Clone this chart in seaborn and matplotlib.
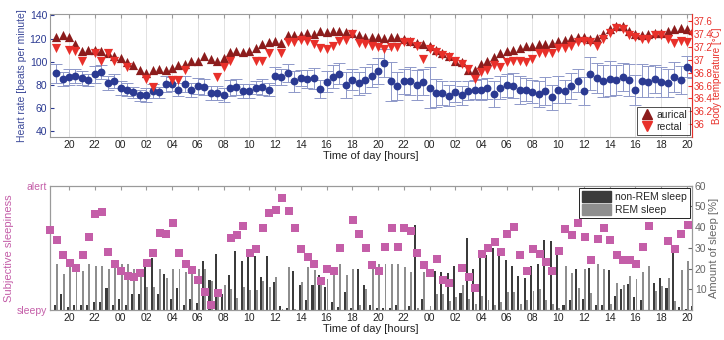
import numpy as np
import pandas as pd
import matplotlib
matplotlib.use("Agg")
import matplotlib.pyplot as plt
from matplotlib.lines import Line2D
from matplotlib.patches import Patch
import seaborn as sns

# half-hourly samples, hours counted from midnight of day 1 (44 = 20:00 next day)
hours = np.arange(19.0, 69.0, 0.5)

heart_rate = [90, 85, 87, 88, 86, 84, 89, 91, 82, 83,
              77, 76, 73.5, 71, 71.4, 75, 73.5, 80.6, 81, 76,
              81, 75.5, 79, 78, 73, 73, 71, 77, 78, 75,
              74.5, 77.7, 78, 76, 87.5, 86.5, 90.3, 83, 85.7, 85,
              85.7, 76.6, 82.6, 87, 89.7, 79.7, 84.3, 81.5, 84, 88,
              92, 98.9, 83, 79, 83, 83, 79.7, 82.6, 77.7, 73.2,
              73, 70.6, 74, 71, 75, 76, 75.7, 77, 72.3, 77.7,
              79.7, 79.4, 75.5, 76, 74, 72.3, 74.9, 69.2, 76, 74.6,
              79, 83.7, 75, 89.7, 86, 83.4, 85.4, 84, 86.9, 84,
              75.5, 83.7, 82.9, 85.1, 82.6, 81.4, 86.6, 84, 95.7, 93.5]
hr_err = [8, 6, 7, 6, 6, 5, 7, 6, 6, 6,
          6, 6, 5, 5, 6, 6, 5, 7, 6, 6,
          7, 6, 7, 7, 6, 6, 6, 7, 7, 6,
          6, 6, 7, 6, 8, 7, 8, 9, 7, 8,
          9, 8, 9, 10, 9, 11, 9, 10, 11, 10,
          11, 12, 17, 12, 11, 12, 13, 11, 18, 12,
          10, 9, 9, 8, 8, 8, 9, 9, 11, 10,
          10, 11, 12, 10, 10, 11, 12, 11, 12, 10,
          11, 10, 12, 14, 13, 14, 15, 13, 12, 14,
          13, 14, 13, 12, 13, 12, 13, 12, 9, 8]

aurical = [37.35, 37.39, 37.36, 37.24, 37.14, 37.15, 37.16, 37.14, 37.11, 37.06,
           37.03, 36.97, 36.92, 36.84, 36.80, 36.84, 36.86, 36.85, 36.88, 36.92,
           36.93, 36.98, 36.99, 37.06, 37.02, 36.99, 37.03, 37.12, 37.14, 37.12,
           37.14, 37.19, 37.25, 37.28, 37.30, 37.26, 37.38, 37.39, 37.39, 37.42,
           37.41, 37.45, 37.43, 37.45, 37.45, 37.43, 37.42, 37.39, 37.35, 37.36,
           37.36, 37.34, 37.36, 37.36, 37.33, 37.29, 37.26, 37.25, 37.22, 37.16,
           37.10, 37.06, 36.99, 36.97, 36.84, 36.85, 36.94, 36.98, 37.04, 37.11,
           37.14, 37.16, 37.19, 37.21, 37.22, 37.24, 37.25, 37.26, 37.29, 37.31,
           37.34, 37.36, 37.36, 37.33, 37.34, 37.41, 37.48, 37.53, 37.52, 37.45,
           37.41, 37.39, 37.41, 37.42, 37.42, 37.45, 37.48, 37.50, 37.48, 37.46]
nan = np.nan
rectal = [37.19, nan, 37.16, 37.14, 36.99, nan, 37.11, 36.99, 37.10, 36.99,
          nan, 36.89, nan, nan, 36.71, 36.58, nan, nan, 36.69, 36.69,
          36.85, nan, nan, nan, nan, 36.74, 36.89, 36.99, nan, nan,
          nan, 36.99, 36.99, 37.10, nan, 37.10, 37.28, 37.28, 37.31, 37.29,
          37.25, 37.19, 37.17, 37.21, 37.30, 37.31, 37.41, 37.26, 37.25, 37.22,
          37.20, 37.17, 37.20, 37.20, 37.28, 37.28, 37.22, 37.02, 37.17, 37.12,
          37.07, 37.04, 36.99, 36.94, 36.86, 36.71, 36.81, 36.84, 36.92, 36.89,
          36.97, 36.99, 36.99, 36.97, 37.02, 37.10, 37.10, 37.11, 37.19, 37.19,
          37.21, 37.28, 37.29, 37.28, 37.21, 37.33, 37.42, 37.50, 37.48, 37.38,
          37.36, 37.33, 37.33, 37.39, 37.39, 37.33, 37.26, 37.29, 37.28, 37.39]

# sleepiness rated 0 (sleepy) .. 100 (alert), taken ~25 min before each slot
sleepiness = [64.0, 56.0, 44.4, 37.9, 33.9, 44.4, 58.9, 76.9, 79.0, 46.5,
              36.8, 31.2, 27.2, 26.6, 29.8, 38.2, 46.2, 61.6, 61.3, 69.9,
              45.7, 37.3, 32.0, 24.0, 14.6, 4.1, 13.4, nan, 57.6, 60.0,
              67.5, 45.5, 48.7, 65.9, 78.0, 80.6, 89.8, 79.8, 65.9, 49.0,
              43.0, 37.4, 23.7, 33.1, 31.2, 50.0, nan, 72.1, 61.0, 49.5,
              36.3, 31.2, 50.3, 65.9, 50.3, 65.9, 63.5, 46.0, 36.3, 29.6,
              40.9, 24.0, 22.1, nan, 33.6, 26.6, 18.0, 45.2, 50.0, 54.8,
              46.3, 61.0, 66.4, 44.4, 31.5, 49.2, 44.7, 38.7, 31.5, 47.6,
              65.1, 60.5, 70.2, 58.4, 40.6, 57.0, 65.9, 56.5, 44.1, 40.1,
              40.6, 36.9, 50.8, 67.5, nan, nan, 55.4, 49.0, 61.0, 68.5]

non_rem = [2.3, 7.6, 1.5, 2.6, 2.6, 2.6, 3.7, 3.7, 10.6, 2.6,
           5.3, 2.6, 7.9, 7.9, 21.1, 25.0, 7.9, 17.6, 5.3, 10.7,
           2.6, 5.3, 3.6, 23.7, 14.7, 27.2, 7.6, 17.0, 28.5, 23.7,
           25.9, 25.9, 16.0, 25.9, 13.4, 1.8, 1.1, 18.7, 12.2, 5.0,
           12.2, 17.0, 11.0, 3.7, 1.3, 8.5, 1.0, 19.8, 12.2, 2.6,
           1.0, 1.0, 1.0, 2.6, 0.0, 2.0, 40.9, 5.5, 0.0, 18.7,
           18.4, 17.9, 21.1, 8.2, 34.9, 20.0, 28.8, 26.4, 29.8, 27.2,
           24.0, 21.3, 16.3, 15.5, 21.1, 22.4, 33.7, 33.3, 28.8, 2.3,
           4.7, 19.8, 5.2, 20.1, 2.6, 2.3, 19.5, 6.6, 10.0, 12.4,
           6.3, 5.0, 0.0, 13.2, 15.5, 10.6, 30.4, 1.4, 0.5, 2.0]
rem = [22.4, 17.4, 20.8, 22.4, 18.7, 22.4, 21.1, 21.1, 19.7, 21.6,
       22.1, 22.1, 19.7, 19.7, 11.1, 11.1, 19.7, 15.5, 19.7, 19.7,
       18.4, 17.6, 19.8, 19.8, 14.0, 6.5, 12.0, 10.0, 6.0, 11.0,
       9.5, 9.5, 13.8, 11.0, 16.0, 0.5, 20.8, 0.5, 13.5, 20.8,
       19.2, 15.0, 14.8, 20.0, 22.4, 16.7, 20.0, 2.6, 10.3, 22.0,
       22.4, 22.4, 22.4, 22.4, 20.8, 18.4, 1.0, 18.4, 2.0, 7.9,
       7.6, 4.3, 6.3, 11.9, 5.5, 2.7, 6.6, 5.0, 2.4, 3.9,
       8.7, 8.7, 2.7, 4.7, 9.2, 10.3, 5.0, 3.1, 1.0, 21.1,
       17.9, 10.5, 19.8, 8.2, 22.4, 20.0, 3.0, 13.2, 12.2, 16.4,
       14.8, 18.4, 21.3, 9.2, 11.6, 15.6, 4.3, 19.2, 23.7, 20.0]

tick_hours = np.arange(20, 69, 2)
tick_labels = ["%02d" % (h % 24) for h in tick_hours]

df = pd.DataFrame({"hour": hours, "hr": heart_rate, "err": hr_err,
                   "aurical": aurical, "rectal": rectal,
                   "sleepiness": sleepiness, "non_rem": non_rem, "rem": rem})

sns.set_style("white")
plt.rcParams["font.family"] = ["Liberation Sans", "DejaVu Sans"]
plt.rcParams["font.size"] = 7.5

BLUE = "#2B3A92"
ERR = "#8E98C9"
DARKRED = "#8C1C1C"
RED = "#E8302A"
PINK = "#C45EA8"
FRAME = "#9A9A9A"

fig = plt.figure(figsize=(7.24, 3.4), dpi=100)


def style_x(ax):
    ax.set_xlim(18.52, 68.4)
    ax.set_xticks(tick_hours)
    ax.set_xticklabels(tick_labels, color="#222222", fontsize=7.5)
    ax.grid(axis="x", color="#DDDDDD", lw=0.6)
    ax.tick_params(axis="x", direction="in", top=True, length=3, color=FRAME, pad=2)
    ax.set_xlabel("Time of day [hours]", fontsize=8, labelpad=1, color="#222222")
    for s in ax.spines.values():
        s.set_color(FRAME)
        s.set_linewidth(0.8)


# ---------- top panel: heart rate + body temperature ----------
ax1 = fig.add_axes([0.069, 0.597, 0.887, 0.363])
ax1.errorbar(df["hour"], df["hr"], yerr=df["err"], fmt="none", ecolor=ERR,
             elinewidth=0.7, capsize=4.5, capthick=0.7, zorder=2)
sns.scatterplot(data=df, x="hour", y="hr", ax=ax1, color=BLUE, s=32,
                linewidth=0, zorder=3)
ax1.set_ylim(35, 141.5)
ax1.set_yticks(range(40, 141, 20))
ax1.tick_params(axis="y", direction="in", length=3, colors=BLUE, labelsize=7.5, pad=2)
ax1.set_ylabel("Heart rate [beats per minute]", color="#3D4A9A", fontsize=7.5, labelpad=2)
style_x(ax1)

ax1t = ax1.twinx()
sns.scatterplot(data=df, x="hour", y="aurical", ax=ax1t, color=DARKRED, marker="^",
                s=44, linewidth=0)
sns.scatterplot(data=df, x="hour", y="rectal", ax=ax1t, color=RED, marker="v",
                s=44, linewidth=0)
ax1t.set_ylim(35.80, 37.72)
ax1t.set_yticks(np.round(np.arange(36.0, 37.61, 0.2), 1))
ax1t.set_yticklabels(["36", "36.2", "36.4", "36.6", "36.8", "37", "37.2", "37.4", "37.6"])
ax1t.tick_params(axis="y", direction="in", length=3, colors=RED, labelsize=7, pad=1)
ax1t.set_ylabel("Body temperature [°C]", color=RED, fontsize=7)
ax1t.yaxis.set_label_coords(1.031, 0.5)
ax1t.spines["right"].set_color(RED)
ax1t.set_xlim(18.52, 68.4)
for k in ["left", "top", "bottom"]:
    ax1t.spines[k].set_visible(False)

leg1 = ax1t.legend(handles=[
    Line2D([], [], marker="^", ls="", color=DARKRED, markersize=7, label="aurical"),
    Line2D([], [], marker="v", ls="", color=RED, markersize=7, label="rectal")],
    loc="lower right", fontsize=7.5, frameon=True, fancybox=False,
    borderpad=0.3, handletextpad=0.3, labelspacing=0.2, handlelength=1.2,
    borderaxespad=0.2)
leg1.get_frame().set_edgecolor("#222222")
leg1.get_frame().set_linewidth(0.7)

# ---------- bottom panel: sleepiness + sleep amount ----------
ax2 = fig.add_axes([0.069, 0.088, 0.887, 0.366])
ax2b = ax2.twinx()
ax2b.bar(df["hour"] - 0.09, df["non_rem"], width=0.16, color="#3B3B3B", linewidth=0)
ax2b.bar(df["hour"] + 0.08, df["rem"], width=0.15, color="#8E8E8E", linewidth=0)
ax2b.set_ylim(0, 60)
ax2b.set_yticks(range(10, 61, 10))
ax2b.tick_params(axis="y", direction="in", length=3, colors="#666666", labelsize=7.5, pad=2)
ax2b.set_ylabel("Amount of sleep [%]", color="#666666", fontsize=8, labelpad=2)
for s in ax2b.spines.values():
    s.set_color(FRAME)
ax2b.set_xlim(18.52, 68.4)

# squares must sit on top of the bars
ax2.set_zorder(ax2b.get_zorder() + 1)
ax2.patch.set_visible(False)
sq = df.assign(t=df["hour"] - 0.45)
sns.scatterplot(data=sq, x="t", y="sleepiness", ax=ax2, color=PINK, marker="s",
                s=26, linewidth=0, clip_on=False, zorder=4)
ax2.set_ylim(0, 100)
ax2.set_yticks([0, 100])
ax2.set_yticklabels(["sleepy", "alert"])
ax2.tick_params(axis="y", direction="in", length=0, colors=PINK, labelsize=7.5, pad=2)
ax2.set_ylabel("Subjective sleepiness", color=PINK, fontsize=8, labelpad=2)
style_x(ax2)
ax2b.grid(False)
ax2b.xaxis.grid(True, color="#DDDDDD", lw=0.6)
ax2b.set_axisbelow(True)
ax2.grid(False)

leg2 = ax2.legend(handles=[Patch(color="#3B3B3B", label="non-REM sleep"),
                           Patch(color="#8E8E8E", label="REM sleep")],
                  loc="upper right", fontsize=7.5, frameon=True, fancybox=False,
                  borderpad=0.3, handletextpad=0.4, labelspacing=0.25,
                  handlelength=2.8, handleheight=1.2, borderaxespad=0.2)
leg2.get_frame().set_edgecolor("#222222")
leg2.get_frame().set_linewidth(0.7)
leg2.get_frame().set_alpha(1)

fig.savefig("out.png", dpi=100)
